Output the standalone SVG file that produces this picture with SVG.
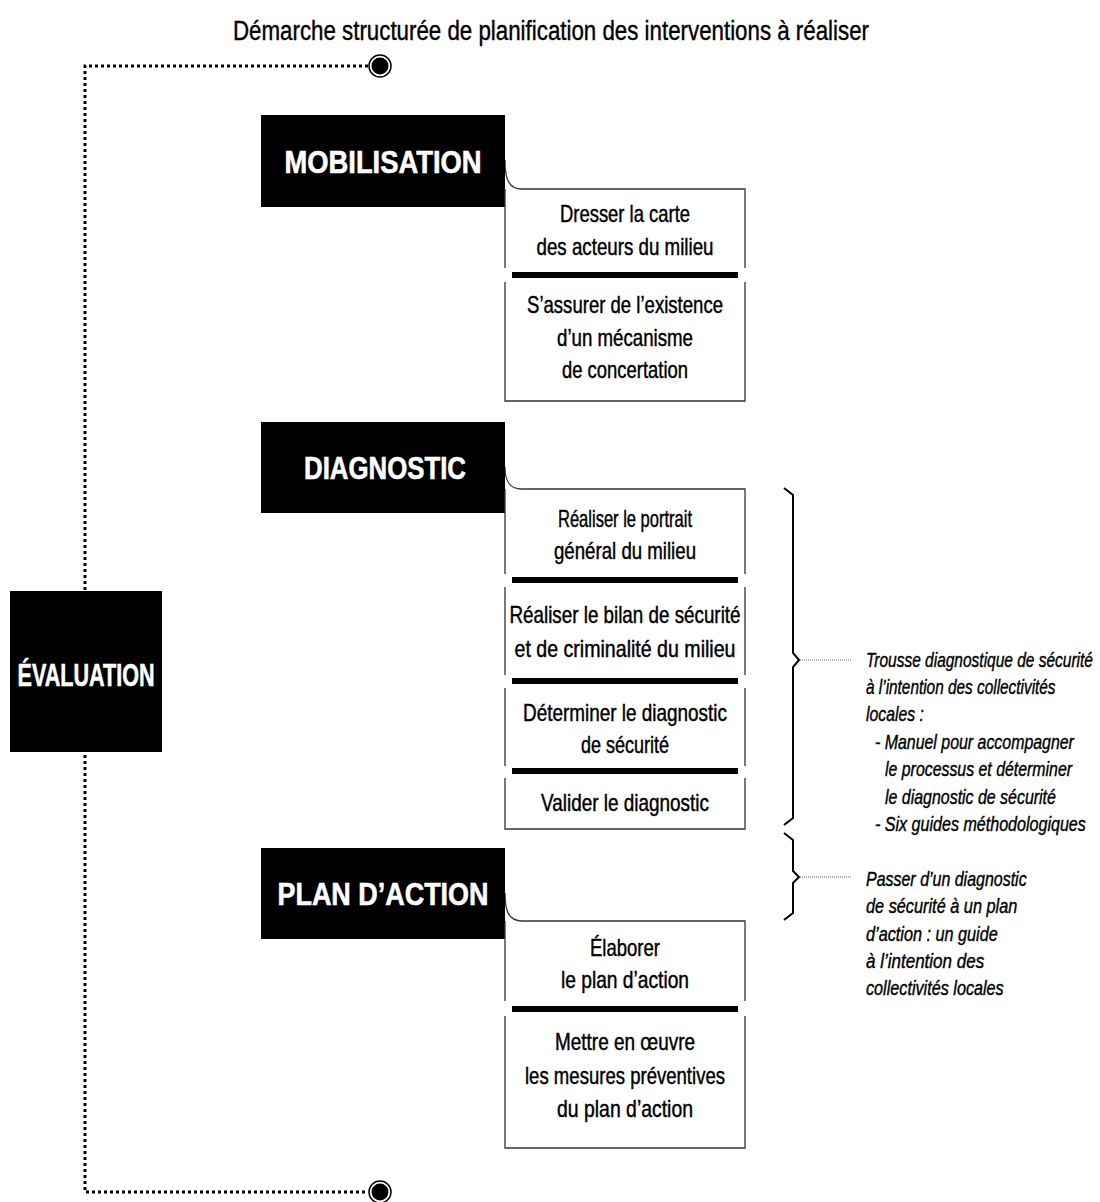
<svg xmlns="http://www.w3.org/2000/svg" width="1100" height="1202" viewBox="0 0 1100 1202">
<style>
.title{font-family:"Liberation Sans Narrow","Liberation Sans",Arial,sans-serif;font-size:27px;fill:#000;stroke:#000;stroke-width:0.4;text-anchor:middle}
.hd{font-family:"Liberation Sans",Arial,sans-serif;font-weight:bold;font-size:32px;fill:#fff;stroke:#fff;stroke-width:0.6;text-anchor:middle}
.t{font-family:"Liberation Sans Narrow","Liberation Sans",Arial,sans-serif;font-size:24px;fill:#000;stroke:#000;stroke-width:0.45;text-anchor:middle}
.n{font-family:"Liberation Sans Narrow","Liberation Sans",Arial,sans-serif;font-size:20px;font-style:italic;fill:#000;stroke:#000;stroke-width:0.4}
.blk{fill:#000}
.box{fill:none;stroke:#333;stroke-width:1.3}
.bar{fill:#000}
.dot{fill:none;stroke:#000;stroke-width:3;stroke-dasharray:3 3}
.curve{fill:none;stroke:#333;stroke-width:1.3}
.brace{fill:none;stroke:#000;stroke-width:2}
.lead{fill:none;stroke:#666;stroke-width:1;stroke-dasharray:1 1}
</style>
<defs>
<g id="endpoint"><circle r="11" fill="#fff" stroke="#000" stroke-width="1.5"/><circle r="8.5" fill="#000"/></g>
</defs>
<text class="title" x="551" y="40" textLength="636" lengthAdjust="spacingAndGlyphs">Démarche structurée de planification des interventions à réaliser</text>

<g id="connectors">
<path class="dot" d="M368,66 H85 V1192 H368"/>
<use href="#endpoint" x="380" y="66"/>
<use href="#endpoint" x="380" y="1192"/>
<path class="curve" d="M505,160 C505,178 508,189 522,189"/>
<path class="curve" d="M505,467 C505,479 508,489 522,489"/>
<path class="curve" d="M505,893 C505,910 508,921 522,921"/>
<path class="lead" d="M800,660 H851"/>
<path class="lead" d="M800,877 H851"/>
</g>

<g id="evaluation">
<rect class="blk" x="10" y="591" width="152" height="161"/>
<text class="hd" x="86" y="686" font-size="27" textLength="137" lengthAdjust="spacingAndGlyphs">ÉVALUATION</text>
</g>

<g id="mobilisation">
<rect class="blk" x="261" y="115" width="244" height="92"/>
<text class="hd" x="383" y="173" textLength="197" lengthAdjust="spacingAndGlyphs">MOBILISATION</text>
</g>
<g id="m1">
<path class="box" d="M522,189 H745 V268 M505,189 V268"/>
<text class="t" x="625" y="222" textLength="130" lengthAdjust="spacingAndGlyphs">Dresser la carte</text>
<text class="t" x="625" y="255" textLength="177" lengthAdjust="spacingAndGlyphs">des acteurs du milieu</text>
<rect class="bar" x="512" y="272" width="226" height="6"/>
</g>
<g id="m2">
<path class="box" d="M505,282 V401 H745 V282"/>
<text class="t" x="625" y="313" textLength="196" lengthAdjust="spacingAndGlyphs">S’assurer de l’existence</text>
<text class="t" x="625" y="346" textLength="136" lengthAdjust="spacingAndGlyphs">d’un mécanisme</text>
<text class="t" x="625" y="378" textLength="126" lengthAdjust="spacingAndGlyphs">de concertation</text>
</g>

<g id="diagnostic">
<rect class="blk" x="261" y="422" width="244" height="91"/>
<text class="hd" x="385" y="479" textLength="162" lengthAdjust="spacingAndGlyphs">DIAGNOSTIC</text>
</g>
<g id="d1">
<path class="box" d="M522,489 H745 V574 M505,489 V574"/>
<text class="t" x="625" y="527" textLength="134" lengthAdjust="spacingAndGlyphs">Réaliser le portrait</text>
<text class="t" x="625" y="559" textLength="142" lengthAdjust="spacingAndGlyphs">général du milieu</text>
<rect class="bar" x="512" y="577" width="226" height="6"/>
</g>
<g id="d2">
<path class="box" d="M505,587 V675 M745,587 V675"/>
<text class="t" x="625" y="623" textLength="231" lengthAdjust="spacingAndGlyphs">Réaliser le bilan de sécurité</text>
<text class="t" x="625" y="657" textLength="221" lengthAdjust="spacingAndGlyphs">et de criminalité du milieu</text>
<rect class="bar" x="512" y="678" width="226" height="6"/>
</g>
<g id="d3">
<path class="box" d="M505,688 V766 M745,688 V766"/>
<text class="t" x="625" y="721" textLength="204" lengthAdjust="spacingAndGlyphs">Déterminer le diagnostic</text>
<text class="t" x="625" y="753" textLength="88" lengthAdjust="spacingAndGlyphs">de sécurité</text>
<rect class="bar" x="512" y="768" width="226" height="6"/>
</g>
<g id="d4">
<path class="box" d="M505,778 V829 H745 V778"/>
<text class="t" x="625" y="811" textLength="168" lengthAdjust="spacingAndGlyphs">Valider le diagnostic</text>
</g>

<g id="plan">
<rect class="blk" x="261" y="848" width="244" height="91"/>
<text class="hd" x="383" y="905" textLength="211" lengthAdjust="spacingAndGlyphs">PLAN D’ACTION</text>
</g>
<g id="p1">
<path class="box" d="M522,921 H745 V1001 M505,921 V1001"/>
<text class="t" x="625" y="956" textLength="70" lengthAdjust="spacingAndGlyphs">Élaborer</text>
<text class="t" x="625" y="988" textLength="128" lengthAdjust="spacingAndGlyphs">le plan d’action</text>
<rect class="bar" x="512" y="1006" width="226" height="6"/>
</g>
<g id="p2">
<path class="box" d="M505,1016 V1148 H745 V1016"/>
<text class="t" x="625" y="1050" textLength="140" lengthAdjust="spacingAndGlyphs">Mettre en œuvre</text>
<text class="t" x="625" y="1084" textLength="200" lengthAdjust="spacingAndGlyphs">les mesures préventives</text>
<text class="t" x="625" y="1117" textLength="136" lengthAdjust="spacingAndGlyphs">du plan d’action</text>
</g>

<g id="note-trousse">
<path class="brace" d="M784,488 L793,495 V653 L799,660 L793,667 V818 L784,825"/>
<g transform="translate(866,0) scale(0.78,1)">
<text class="n" x="0" y="667" textLength="291" lengthAdjust="spacingAndGlyphs">Trousse diagnostique de sécurité</text>
</g>
<g transform="translate(866,0) scale(0.85,1)">
<text class="n" x="0" y="694" textLength="223" lengthAdjust="spacingAndGlyphs">à l’intention des collectivités</text>
<text class="n" x="0" y="721" textLength="68" lengthAdjust="spacingAndGlyphs">locales :</text>
<text class="n" x="10.6" y="749" textLength="234" lengthAdjust="spacingAndGlyphs">- Manuel pour accompagner</text>
<text class="n" x="22.4" y="776" textLength="220" lengthAdjust="spacingAndGlyphs">le processus et déterminer</text>
<text class="n" x="22.4" y="804" textLength="201" lengthAdjust="spacingAndGlyphs">le diagnostic de sécurité</text>
<text class="n" x="10.6" y="831" textLength="248" lengthAdjust="spacingAndGlyphs">- Six guides méthodologiques</text>
</g>
</g>

<g id="note-guide">
<path class="brace" d="M784,833 L793,840 V871 L799,877 L793,883 V913 L784,920"/>
<g transform="translate(866,0) scale(0.85,1)">
<text class="n" x="0" y="886" textLength="189" lengthAdjust="spacingAndGlyphs">Passer d’un diagnostic</text>
<text class="n" x="0" y="913" textLength="178" lengthAdjust="spacingAndGlyphs">de sécurité à un plan</text>
<text class="n" x="0" y="941" textLength="155" lengthAdjust="spacingAndGlyphs">d’action : un guide</text>
<text class="n" x="0" y="968" textLength="139" lengthAdjust="spacingAndGlyphs">à l’intention des</text>
<text class="n" x="0" y="995" textLength="162" lengthAdjust="spacingAndGlyphs">collectivités locales</text>
</g>
</g>
</svg>
